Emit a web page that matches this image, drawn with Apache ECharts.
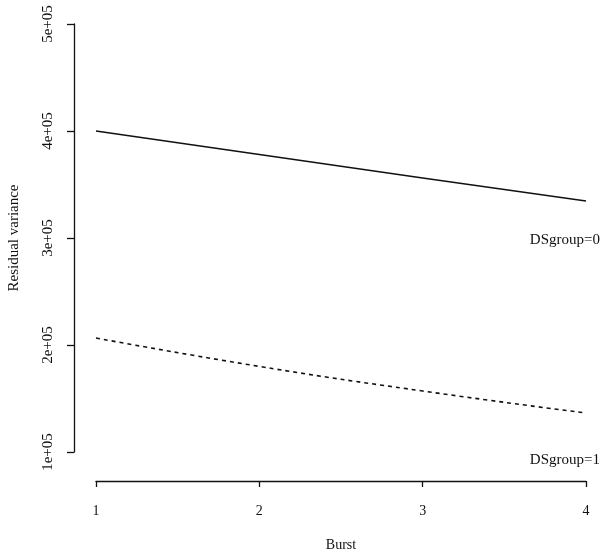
<!DOCTYPE html>
<html><head><meta charset="utf-8">
<script src="https://cdn.jsdelivr.net/npm/echarts@6/dist/echarts.min.js"></script>
<style>html,body{margin:0;padding:0;background:#fff}#c{width:604px;height:555px}</style>
</head><body><div id="c"></div>
<script>
var bursts = [1, 2, 3, 4];
var dsGroup0 = [400000, 378000, 356000, 334600];
var dsGroup1 = [206500, 180000, 157000, 136400];
var yTicks = [100000, 200000, 300000, 400000, 500000];
var groupLabels = ['DSgroup=0', 'DSgroup=1'];
var labelY = [298000, 92500];

function pairs(xs, ys){ return xs.map(function(x,i){return [x, ys[i]];}); }
function fmt(v){ var e = Math.floor(Math.log10(v)); var m = v/Math.pow(10,e); return m + 'e+' + (e<10?'0':'') + e; }

var font = 'Liberation Serif';
var ink = '#111';
var lastX = bursts[bursts.length-1];
var chart = echarts.init(document.getElementById('c'));
chart.setOption({
  animation: false,
  grid: {left: 96, right: 18, top: 24, bottom: 103, containLabel: false, outerBoundsMode: 'none'},
  xAxis: {
    type: 'value', min: 1, max: 4, interval: 1, offset: 29,
    name: 'Burst', nameLocation: 'middle', nameGap: 57,
    nameTextStyle: {fontFamily: font, fontSize: 14, color: ink},
    axisLine: {show: true, lineStyle: {color: ink, width: 1.3}},
    axisTick: {show: true, length: 6, lineStyle: {color: ink, width: 1.3}},
    axisLabel: {fontFamily: font, fontSize: 14, color: ink, margin: 23},
    splitLine: {show: false}
  },
  yAxis: {
    type: 'value', min: yTicks[0], max: yTicks[yTicks.length-1], interval: 100000, offset: 22,
    name: 'Residual variance', nameLocation: 'middle', nameGap: 52, nameRotate: 90,
    nameTextStyle: {fontFamily: font, fontSize: 15, color: ink},
    axisLine: {show: true, lineStyle: {color: ink, width: 1.3}},
    axisTick: {show: true, length: 7, lineStyle: {color: ink, width: 1.3}},
    axisLabel: {fontFamily: font, fontSize: 15, color: ink, rotate: 90, margin: 18,
                align: 'center', verticalAlign: 'bottom', formatter: fmt},
    splitLine: {show: false}
  },
  series: [
    {type: 'line', data: pairs(bursts, dsGroup0), symbol: 'none', smooth: false,
     lineStyle: {color: ink, width: 1.6, type: 'solid'}},
    {type: 'line', data: pairs(bursts, dsGroup1), symbol: 'none', smooth: true,
     lineStyle: {color: ink, width: 1.6, type: [4, 4]}},
    {type: 'scatter', clip: false, silent: true, symbol: 'circle', symbolSize: 0,
     itemStyle: {color: ink, opacity: 1},
     data: labelY.map(function(y, i){ return {value: [lastX, y], name: groupLabels[i]}; }),
     label: {show: true, formatter: '{b}', position: 'left', distance: -14,
             fontFamily: font, fontSize: 15, color: ink, opacity: 1}}
  ]
});
</script></body></html>
